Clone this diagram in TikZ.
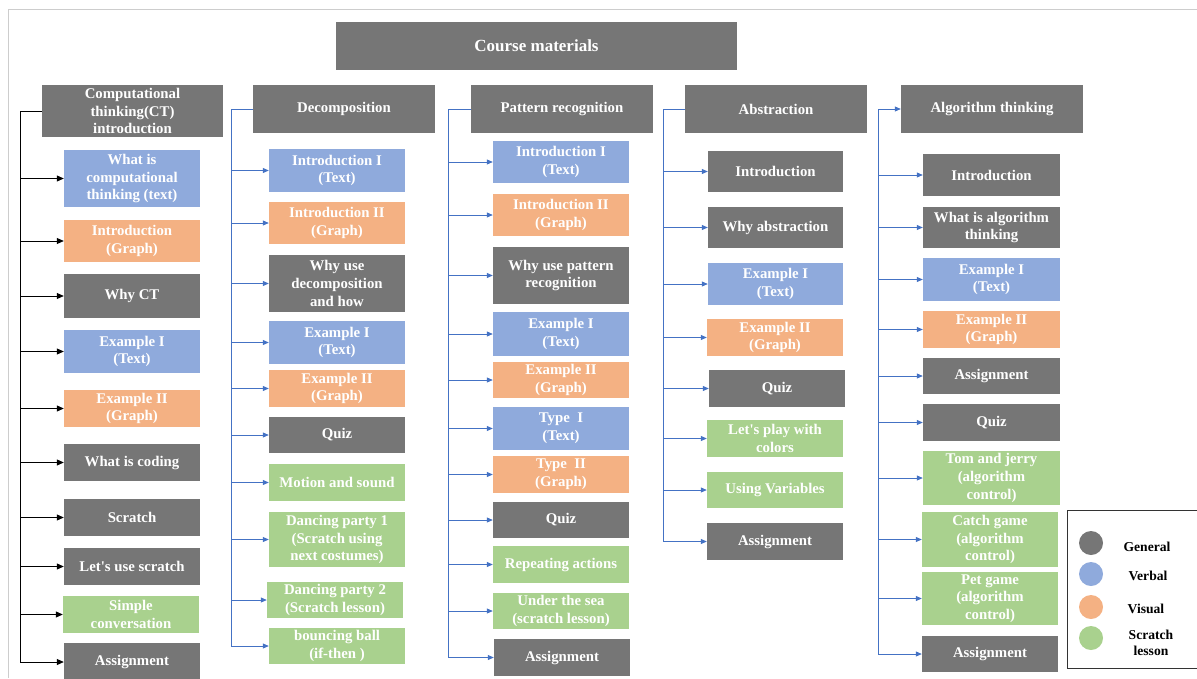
\documentclass[tikz,border=0pt]{standalone}
\usepackage{fontspec}
\setmainfont{Liberation Serif}
\usetikzlibrary{arrows.meta}

\definecolor{cgray}{RGB}{118,118,118}
\definecolor{cblue}{RGB}{143,170,220}
\definecolor{corange}{RGB}{244,177,131}
\definecolor{cgreen}{RGB}{169,209,142}
\definecolor{clink}{RGB}{68,114,196}
\definecolor{cframe}{RGB}{205,205,205}

% box from corner (x1,y1) to corner (x2,y2): name, style, x1, y1, x2, y2, text
\newcommand\cmbox[7]{%
  \node[cmnode,#2,minimum width={(#5-#3)*1pt},minimum height={(#6-#4)*1pt}]
    (#1) at ({(#3+#5)/2},{(#4+#6)/2}) {#7};}
\newcommand\apos{\textquotesingle}

\tikzset{
  cmnode/.style={inner sep=0pt, align=center, text=white,
    font=\fontsize{14.8}{17.6}\selectfont\bfseries},
  gen/.style={fill=cgray},
  verb/.style={fill=cblue},
  vis/.style={fill=corange},
  scr/.style={fill=cgreen},
  link/.style={draw=clink, line width=0.8pt},
  arr/.style={link, -{Triangle[length=6pt,width=5pt]}},
  blk/.style={draw=black, line width=0.8pt},
  blkarr/.style={blk, -{Triangle[length=7pt,width=6pt]}},
  legtext/.style={align=center, text=black, font=\fontsize{13.6}{16.5}\selectfont\bfseries},
  legdot/.style={circle, inner sep=0pt, minimum size=24pt},
}

\begin{document}
\begin{tikzpicture}[x=1pt,y=-1pt]
\useasboundingbox (0,0) rectangle (1197,678);
\draw[cframe, line width=0.8pt] (8,678) -- (8,9) -- (1197,9);

% title
\cmbox{top}{gen,font=\fontsize{17}{20}\selectfont\bfseries}{336}{22}{737}{70}{Course materials}

% column 1: computational thinking introduction
\cmbox{h1}{gen}{42}{85}{223}{137}{Computational\\thinking(CT)\\introduction}
\cmbox{c1a}{verb}{64}{150}{200}{207}{What is\\computational\\thinking (text)}
\cmbox{c1b}{vis}{64}{220}{200}{262}{Introduction\\(Graph)}
\cmbox{c1c}{gen}{64}{274}{200}{318}{Why CT}
\cmbox{c1d}{verb}{64}{330}{200}{373}{Example I\\(Text)}
\cmbox{c1e}{vis}{64}{390}{200}{427}{Example II\\(Graph)}
\cmbox{c1f}{gen}{64}{444}{200}{481}{What is coding}
\cmbox{c1g}{gen}{64}{499}{200}{536}{Scratch}
\cmbox{c1h}{gen}{64}{548}{200}{585}{Let\apos s use scratch}
\cmbox{c1i}{scr}{63}{596}{199}{633}{Simple\\conversation}
\cmbox{c1j}{gen}{64}{643}{200}{681}{Assignment}

\coordinate (t1) at (20,111);
\draw[blk] (h1.west) -- (t1) -- (t1 |- c1j.west);
\foreach \n in {c1a,c1b,c1c,c1d,c1e,c1f,c1g,c1h,c1i,c1j}
  \draw[blkarr] (t1 |- \n.west) -- (\n.west);

% column 2: decomposition
\cmbox{h2}{gen}{253}{85}{435}{133}{Decomposition}
\cmbox{c2a}{verb}{269}{149}{405}{192}{Introduction I\\(Text)}
\cmbox{c2b}{vis}{269}{202}{405}{244}{Introduction II\\(Graph)}
\cmbox{c2c}{gen}{269}{255}{405}{312}{Why use\\decomposition\\and how}
\cmbox{c2d}{verb}{269}{321}{405}{364}{Example I\\(Text)}
\cmbox{c2e}{vis}{269}{370}{405}{407}{Example II\\(Graph)}
\cmbox{c2f}{gen}{269}{417}{405}{453}{Quiz}
\cmbox{c2g}{scr}{269}{464}{405}{501}{Motion and sound}
\cmbox{c2h}{scr}{269}{512}{405}{567}{Dancing party 1\\(Scratch using\\next costumes)}
\cmbox{c2i}{scr}{267}{582}{403}{618}{Dancing party 2\\(Scratch lesson)}
\cmbox{c2j}{scr}{269}{628}{405}{664}{bouncing ball\\(if-then )}

\coordinate (t2) at (231,109);
\draw[link] (h2.west) -- (t2) -- (t2 |- c2j.west);
\foreach \n in {c2a,c2b,c2c,c2d,c2e,c2f,c2g,c2h,c2i,c2j}
  \draw[arr] (t2 |- \n.west) -- (\n.west);

% column 3: pattern recognition
\cmbox{h3}{gen}{471}{85}{653}{133}{Pattern recognition}
\cmbox{c3a}{verb}{493}{141}{629}{183}{Introduction I\\(Text)}
\cmbox{c3b}{vis}{493}{194}{629}{236}{Introduction II\\(Graph)}
\cmbox{c3c}{gen}{493}{247}{629}{304}{Why use pattern\\recognition}
\cmbox{c3d}{verb}{493}{312}{629}{356}{Example I\\(Text)}
\cmbox{c3e}{vis}{493}{362}{629}{398}{Example II\\(Graph)}
\cmbox{c3f}{verb}{493}{407}{629}{450}{Type~ I\\(Text)}
\cmbox{c3g}{vis}{493}{456}{629}{493}{Type~ II\\(Graph)}
\cmbox{c3h}{gen}{493}{502}{629}{538}{Quiz}
\cmbox{c3i}{scr}{493}{546}{629}{583}{Repeating actions}
\cmbox{c3j}{scr}{493}{593}{629}{629}{Under the sea\\(scratch lesson)}
\cmbox{c3k}{gen}{494}{639}{630}{676}{Assignment}

\coordinate (t3) at (448,109);
\draw[link] (h3.west) -- (t3) -- (t3 |- c3k.west);
\foreach \n in {c3a,c3b,c3c,c3d,c3e,c3f,c3g,c3h,c3i,c3j,c3k}
  \draw[arr] (t3 |- \n.west) -- (\n.west);

% column 4: abstraction
\cmbox{h4}{gen}{685}{85}{867}{133}{Abstraction}
\cmbox{c4a}{gen}{708}{151}{843}{192}{Introduction}
\cmbox{c4b}{gen}{708}{207}{843}{248}{Why abstraction}
\cmbox{c4c}{verb}{708}{263}{843}{305}{Example I\\(Text)}
\cmbox{c4d}{vis}{707}{319}{843}{356}{Example II\\(Graph)}
\cmbox{c4e}{gen}{709}{370}{845}{407}{Quiz}
\cmbox{c4f}{scr}{707}{420}{843}{457}{Let\apos s play with\\colors}
\cmbox{c4g}{scr}{707}{472}{843}{508}{Using Variables}
\cmbox{c4h}{gen}{707}{523}{843}{560}{Assignment}

\coordinate (t4) at (663,109);
\draw[link] (h4.west) -- (t4) -- (t4 |- c4h.west);
\foreach \n in {c4a,c4b,c4c,c4d,c4e,c4f,c4g,c4h}
  \draw[arr] (t4 |- \n.west) -- (\n.west);

% column 5: algorithm thinking
\cmbox{h5}{gen}{901}{85}{1083}{133}{Algorithm thinking}
\cmbox{c5a}{gen}{923}{154}{1060}{196}{Introduction}
\cmbox{c5b}{gen}{923}{207}{1060}{248}{What is algorithm\\thinking}
\cmbox{c5c}{verb}{923}{258}{1060}{301}{Example I\\(Text)}
\cmbox{c5d}{vis}{923}{311}{1060}{348}{Example II\\(Graph)}
\cmbox{c5e}{gen}{923}{358}{1060}{394}{Assignment}
\cmbox{c5f}{gen}{923}{404}{1060}{441}{Quiz}
\cmbox{c5g}{scr}{923}{451}{1060}{505}{Tom and jerry\\(algorithm\\control)}
\cmbox{c5h}{scr}{922}{512}{1058}{567}{Catch game\\(algorithm\\control)}
\cmbox{c5i}{scr}{922}{572}{1058}{625}{Pet game\\(algorithm\\control)}
\cmbox{c5j}{gen}{922}{636}{1058}{672}{Assignment}

\coordinate (t5) at (878,109);
\draw[arr] (t5) -- (h5.west);
\draw[link] (t5) -- (t5 |- c5j.west);
\foreach \n in {c5a,c5b,c5c,c5d,c5e,c5f,c5g,c5h,c5i,c5j}
  \draw[arr] (t5 |- \n.west) -- (\n.west);

% legend
\draw[draw=black!80, line width=1pt] (1067,510) rectangle (1205,668);
\node[legdot, fill=cgray]   (d1) at (1091,543) {};
\node[legdot, fill=cblue]   (d2) at (1091,574) {};
\node[legdot, fill=corange] (d3) at (1091,607) {};
\node[legdot, fill=cgreen]  (d4) at (1091,638) {};
\node[legtext] (l1) at (1147,547) {General};
\node[legtext] (l2) at (1148,576) {Verbal};
\node[legtext] (l3) at (1146,609) {Visual};
\node[legtext] (l4) at (1151,643) {Scratch\\lesson};
\end{tikzpicture}
\end{document}
